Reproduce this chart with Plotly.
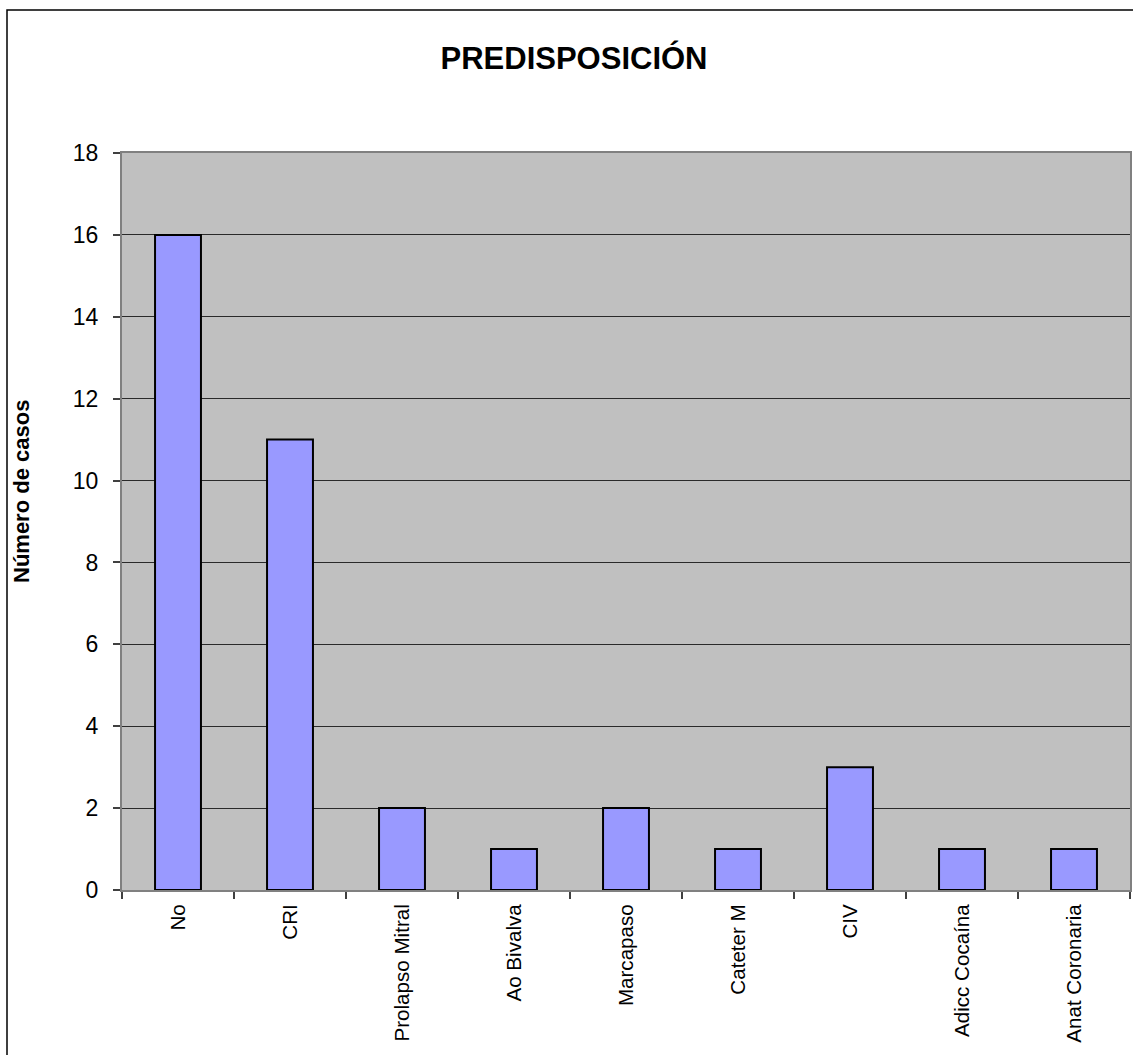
import plotly.graph_objects as go

# Predisposition categories and case counts
categories = ["No", "CRI", "Prolapso Mitral", "Ao Bivalva", "Marcapaso",
              "Cateter M", "CIV", "Adicc Cocaína", "Anat Coronaria"]
cases = [16, 11, 2, 1, 2, 1, 3, 1, 1]
y_ticks = [0, 2, 4, 6, 8, 10, 12, 14, 16, 18]

W, H = 1133, 1055
L, R, T, B = 122, 3, 153, 165
pw, ph = W - L - R, H - T - B

def px_x(x):
    return (x - L) / pw

def px_y(y):
    return (H - B - y) / ph

fig = go.Figure(go.Bar(
    x=categories,
    y=cases,
    width=0.41,
    marker=dict(color="#9999FF", line=dict(color="black", width=2)),
))

fig.update_layout(
    width=W, height=H,
    margin=dict(l=L, r=R, t=T, b=B, autoexpand=False),
    paper_bgcolor="white",
    plot_bgcolor="#C0C0C0",
    font=dict(family="Liberation Sans, Arial, sans-serif", color="black"),
    showlegend=False,
    title=dict(text="<b>PREDISPOSICIÓN</b>", x=574 / W, xanchor="center",
               y=1 - 58 / H, yanchor="middle",
               font=dict(size=31, color="black")),
    bargap=0.59,
    shapes=[dict(type="rect", xref="paper", yref="paper",
                 x0=px_x(7), x1=px_x(1200), y0=px_y(1200), y1=px_y(10),
                 line=dict(color="black", width=1.5), fillcolor="rgba(0,0,0,0)",
                 layer="below")],
    annotations=[dict(text="<b>Número de casos</b>", textangle=-90,
                      xref="paper", yref="paper", x=px_x(21), y=px_y(492),
                      xanchor="center", yanchor="middle", showarrow=False,
                      font=dict(size=22, color="black"))],
)

fig.update_xaxes(
    type="category",
    tickangle=-90,
    tickfont=dict(size=20.6, color="black"),
    ticks="outside", ticklen=7, tickwidth=1.5, tickcolor="#404040",
    tickson="boundaries",
    showline=True, linecolor="#808080", linewidth=2, mirror=True,
    showgrid=False,
    ticklabelstandoff=4,
)

fig.update_yaxes(
    range=[0, 18],
    tickvals=y_ticks,
    tickfont=dict(size=23, color="black"),
    ticks="outside", ticklen=7, tickwidth=1.5, tickcolor="#404040",
    showline=True, linecolor="#808080", linewidth=2, mirror=True,
    showgrid=True, gridcolor="#2a2a2a", gridwidth=1,
    zeroline=False,
    ticklabelstandoff=10,
)

fig.write_html("out.html")
